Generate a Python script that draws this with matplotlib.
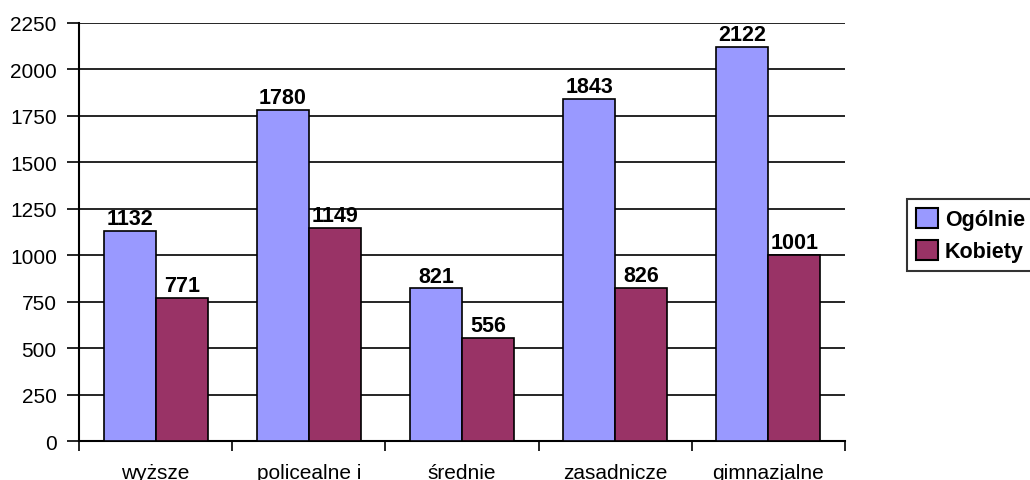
import matplotlib.pyplot as plt
import numpy as np

# data
categories = ["wyższe", "policealne i", "średnie", "zasadnicze", "gimnazjalne"]
ogolnie = [1132, 1780, 821, 1843, 2122]
kobiety = [771, 1149, 556, 826, 1001]
series_names = ["Ogólnie", "Kobiety"]
yticks = [0, 250, 500, 750, 1000, 1250, 1500, 1750, 2000, 2250]

plt.rcParams['font.family'] = ['Liberation Sans', 'DejaVu Sans']

fig = plt.figure(figsize=(10.30, 4.81), dpi=100)
ax = fig.add_axes([79/1030, 1 - 442/481, (845 - 79)/1030, (442 - 24)/481])

x = np.arange(len(categories))
w = 0.34
b1 = ax.bar(x - w/2, ogolnie, w, color="#9999FF", edgecolor="black", linewidth=1.2,
            label=series_names[0], zorder=3)
b2 = ax.bar(x + w/2, kobiety, w, color="#993366", edgecolor="black", linewidth=1.2,
            label=series_names[1], zorder=3)

for bars in (b1, b2):
    for r in bars:
        ax.text(r.get_x() + r.get_width()/2, r.get_height() + 10, str(int(r.get_height())),
                ha="center", va="bottom", fontsize=15.5, fontweight="bold", zorder=4)

ax.set_ylim(0, 2250)
ax.set_xlim(-0.5, len(categories) - 0.5)
ax.set_yticks(yticks)
ax.yaxis.grid(True, color="black", linewidth=1.2, zorder=0)
ax.tick_params(axis="y", labelsize=15, length=9, width=1.2, direction="out", pad=7)

# category labels in the middle, tick marks between categories
ax.set_xticks(x)
ax.set_xticklabels(categories, fontsize=15)
ax.tick_params(axis="x", which="major", length=0, pad=16)
ax.set_xticks(np.arange(len(categories) + 1) - 0.5, minor=True)
ax.tick_params(axis="x", which="minor", length=7.5, width=1.2, direction="out")

for s in ("top", "right"):
    ax.spines[s].set_visible(False)
for s in ("left", "bottom"):
    ax.spines[s].set_linewidth(1.5)

leg = fig.legend(loc="upper left", bbox_to_anchor=(907/1030, 1 - 200/481),
                 frameon=True, fancybox=False, edgecolor="black",
                 prop={"size": 15.5, "weight": "bold"},
                 handlelength=1.05, handleheight=1.05, handletextpad=0.3,
                 borderpad=0.4, labelspacing=0.45, borderaxespad=0)
leg.get_frame().set_linewidth(1.5)
for h in leg.legend_handles:
    h.set_linewidth(1.5)

fig.savefig("out.png", dpi=100)
